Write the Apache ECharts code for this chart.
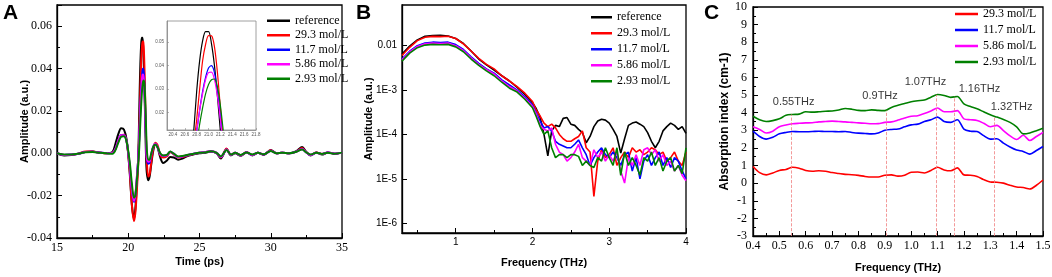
<!DOCTYPE html>
<html>
<head>
<meta charset="utf-8">
<script src="https://cdn.jsdelivr.net/npm/echarts@6/dist/echarts.min.js"></script>
<style>
    html, body { margin: 0; padding: 0; background: #fff; }
    #main { width: 1052px; height: 277px; }
</style>
</head>
<body>
<div id="main"></div>
<script>
// panel A: time domain signal
var timePs = [15, 15.5, 16, 16.5, 17, 17.5, 18, 18.5,
    18.9, 19.1, 19.3, 19.5, 19.7, 19.9,
    20.1, 20.25, 20.4, 20.5, 20.6, 20.7,
    20.75, 20.8, 20.85, 20.9, 20.95, 21.0,
    21.05, 21.1, 21.15, 21.2, 21.25, 21.3,
    21.4, 21.5, 21.6, 21.75, 21.9, 22.05,
    22.25, 22.45, 22.7, 22.95, 23.2, 23.5,
    23.8, 24.2, 24.6, 25, 25.4, 25.8,
    26.2, 26.5, 26.9, 27.2, 27.5, 27.9,
    28.3, 28.7, 29.1, 29.5, 30, 30.4,
    30.8, 31.3, 31.8, 32.2, 32.5, 32.8,
    33.2, 33.6, 34, 34.5, 35];
var tdRef = [0.0, -0.001, -0.0008, -0.0002, 0.0006, 0.0008, 0.0003, 0.0,
    0.0006, 0.0045, 0.009, 0.0118, 0.0112, 0.006,
    -0.009, -0.024, -0.031, -0.026, -0.015, -0.002,
    0.012, 0.029, 0.042, 0.0505, 0.0545, 0.0545,
    0.0493, 0.040, 0.027, 0.012, -0.002, -0.009,
    -0.0127, -0.011, -0.006, 0.001, 0.0045, 0.003,
    -0.002, -0.0046, -0.0035, -0.0018, -0.002, -0.003,
    -0.0025, -0.0012, -0.0005, 0.0, 0.0003, 0.0008,
    0.0, -0.0025, 0.002, -0.001, 0.0, -0.0012,
    0.0005, -0.001, 0.0002, -0.0008, 0.0015, 0.0,
    0.0003, 0.0, 0.001, 0.003, 0.0005, -0.001,
    0.0004, -0.0006, 0.0004, -0.0003, 0.0003];
var td29_3 = [0.0, -0.0008, -0.0008, -0.0002, 0.0008, 0.0008, 0.0003, 0.0,
    0.0003, 0.002, 0.006, 0.0085, 0.0088, 0.005,
    -0.008, -0.024, -0.032, -0.028, -0.018, -0.005,
    0.006, 0.017, 0.030, 0.042, 0.049, 0.0528,
    0.0527, 0.048, 0.037, 0.022, 0.008, -0.003,
    -0.011, -0.010, -0.005, 0.002, 0.005, 0.004,
    -0.001, -0.002, -0.0015, 0.0005, -0.0005, -0.002,
    -0.0018, -0.001, -0.0003, 0.0002, 0.0005, 0.001,
    0.0002, -0.002, 0.0022, -0.0008, 0.0002, -0.001,
    0.0006, -0.0008, 0.0003, -0.0006, 0.0014, 0.0,
    0.0003, 0.0, 0.0008, 0.0025, 0.0005, -0.0008,
    0.0004, -0.0004, 0.0004, -0.0002, 0.0003];
var td11_7 = [0.0, -0.0008, -0.0006, -0.0002, 0.0006, 0.0007, 0.0003, 0.0,
    0.0002, 0.002, 0.006, 0.0085, 0.0085, 0.005,
    -0.006, -0.017, -0.023, -0.020, -0.012, -0.003,
    0.004, 0.012, 0.021, 0.029, 0.035, 0.039,
    0.040, 0.037, 0.029, 0.018, 0.006, -0.002,
    -0.005, -0.0045, -0.001, 0.003, 0.0045, 0.003,
    -0.0005, -0.0012, -0.001, 0.0007, -0.0003, -0.0018,
    -0.0015, -0.0008, -0.0002, 0.0002, 0.0005, 0.001,
    0.0002, -0.0018, 0.0018, -0.0008, 0.0002, -0.001,
    0.0005, -0.0008, 0.0003, -0.0006, 0.0012, 0.0,
    0.0003, 0.0, 0.0008, 0.002, 0.0004, -0.0008,
    0.0003, -0.0004, 0.0004, -0.0002, 0.0003];
var td5_86 = [0.0, -0.0008, -0.0006, -0.0002, 0.0006, 0.0007, 0.0003, 0.0,
    0.0002, 0.002, 0.006, 0.0085, 0.0085, 0.005,
    -0.006, -0.017, -0.0225, -0.0195, -0.0115, -0.003,
    0.004, 0.012, 0.021, 0.028, 0.034, 0.037,
    0.0372, 0.034, 0.027, 0.017, 0.006, -0.002,
    -0.004, -0.0038, -0.0008, 0.003, 0.0045, 0.003,
    -0.0005, -0.0012, -0.001, 0.0007, -0.0003, -0.0018,
    -0.0015, -0.0008, -0.0002, 0.0002, 0.0005, 0.001,
    0.0002, -0.0018, 0.0018, -0.0008, 0.0002, -0.001,
    0.0005, -0.0008, 0.0003, -0.0006, 0.0012, 0.0,
    0.0003, 0.0, 0.0008, 0.002, 0.0004, -0.0008,
    0.0003, -0.0004, 0.0004, -0.0002, 0.0003];
var td2_93 = [0.0, -0.0006, -0.0006, -0.0002, 0.0005, 0.0006, 0.0003, 0.0,
    -0.0002, 0.0015, 0.005, 0.0078, 0.008, 0.005,
    -0.004, -0.014, -0.021, -0.020, -0.013, -0.005,
    0.000, 0.007, 0.015, 0.022, 0.028, 0.032,
    0.034, 0.0343, 0.031, 0.023, 0.012, 0.002,
    -0.003, -0.003, -0.0005, 0.003, 0.0042, 0.003,
    0.0, -0.001, -0.0008, 0.0008, -0.0002, -0.0015,
    -0.0013, -0.0007, -0.0002, 0.0002, 0.0004, 0.0009,
    0.0002, -0.0015, 0.0016, -0.0006, 0.0002, -0.0008,
    0.0004, -0.0006, 0.0002, -0.0005, 0.0011, 0.0,
    0.0002, 0.0, 0.0007, 0.0018, 0.0004, -0.0006,
    0.0003, -0.0003, 0.0003, -0.0002, 0.0003];

// panel B: spectra
var freqB = [0.3, 0.4, 0.5, 0.6, 0.7, 0.8, 0.9, 1.0, 1.1, 1.2, 1.3, 1.4, 1.5, 1.6, 1.7, 1.8, 1.9, 2.0,
    2.05, 2.1, 2.15, 2.2, 2.25, 2.3, 2.35, 2.4, 2.45, 2.5,
    2.55, 2.6, 2.65, 2.7, 2.75, 2.8, 2.85, 2.9, 2.95, 3.0,
    3.05, 3.1, 3.15, 3.2, 3.25, 3.3, 3.35, 3.4, 3.45, 3.5,
    3.55, 3.6, 3.65, 3.7, 3.75, 3.8, 3.85, 3.9, 3.95, 4.0];
var fdRef = [0.0065, 0.0098, 0.0135, 0.0163, 0.0170, 0.0172, 0.0165, 0.0145, 0.0112, 0.0076, 0.0050, 0.0037, 0.0028, 0.0021, 0.0016, 0.00115, 0.00080, 0.00052,
    3.8e-4, 2.4e-4, 1.0e-4, 3.3e-5, 1.2e-4, 1.6e-4, 1.5e-4, 2.3e-4, 2.4e-4, 1.7e-4,
    1.6e-4, 1.3e-4, 1.1e-4, 6.5e-5, 9e-5, 1.5e-4, 2.0e-4, 2.2e-4, 2.1e-4, 1.8e-4,
    1.3e-4, 9e-5, 3.8e-5, 8e-5, 1.6e-4, 1.8e-4, 1.9e-4, 1.7e-4, 1.5e-4, 1.1e-4,
    7e-5, 5e-5, 7e-5, 1.2e-4, 1.5e-4, 1.8e-4, 1.6e-4, 1.3e-4, 1.5e-4, 1.05e-4];
var fd29_3 = [0.0060, 0.0092, 0.0130, 0.0155, 0.0162, 0.0160, 0.0163, 0.0145, 0.0110, 0.0076, 0.0052, 0.0038, 0.0030, 0.0021, 0.0016, 0.0012, 0.00085, 0.00055,
    3.5e-4, 2.6e-4, 1.8e-4, 1.5e-4, 1.7e-4, 1.4e-4, 1.0e-4, 8e-5, 7e-5, 7e-5,
    8e-5, 9e-5, 1.2e-4, 5e-5, 4e-5, 4e-6, 2.5e-5, 4.5e-5, 3e-5, 3.5e-5,
    5e-5, 2e-5, 3e-5, 4e-5, 3e-5, 5e-5, 4e-5, 4.5e-5, 3.5e-5, 4e-5,
    5e-5, 4.5e-5, 3.5e-5, 4e-5, 2.5e-5, 3e-5, 4e-5, 2.5e-5, 2e-5, 4e-5];
var fd11_7 = [0.0050, 0.0075, 0.0100, 0.0115, 0.0120, 0.0118, 0.0120, 0.0106, 0.0082, 0.0056, 0.0040, 0.0030, 0.0024, 0.0017, 0.0013, 0.0010, 0.00070, 0.00046,
    3.0e-4, 2.0e-4, 1.4e-4, 1.5e-4, 1.2e-4, 7e-5, 6e-5, 5.5e-5, 5e-5, 5e-5,
    6e-5, 7.5e-5, 5e-5, 3.5e-5, 2e-5, 3e-5, 4e-5, 5e-5, 3.5e-5, 3e-5,
    4e-5, 3e-5, 2e-5, 3.5e-5, 4e-5, 1.5e-5, 3e-5, 1e-5, 2.5e-5, 3.5e-5,
    2e-5, 3e-5, 4e-5, 2e-5, 3e-5, 1.8e-5, 3e-5, 2.5e-5, 1.5e-5, 1e-5];
var fd5_86 = [0.0048, 0.0072, 0.0096, 0.0110, 0.0115, 0.0112, 0.0115, 0.0100, 0.0078, 0.0053, 0.0038, 0.0029, 0.0023, 0.0016, 0.0012, 0.00095, 0.00066, 0.00043,
    2.8e-4, 1.6e-4, 1.3e-4, 1.2e-4, 1.4e-4, 6e-5, 4e-5, 3.5e-5, 2.5e-5, 3e-5,
    4e-5, 6e-5, 3e-5, 2.5e-5, 2e-5, 4.5e-5, 3e-5, 4e-5, 2.5e-5, 3.5e-5,
    2.5e-5, 4e-5, 1.5e-5, 8e-6, 3e-5, 2e-5, 3.5e-5, 2e-5, 4.5e-5, 5e-5,
    3.5e-5, 4.5e-5, 2.5e-5, 3.5e-5, 2e-5, 2.5e-5, 1.5e-5, 2e-5, 1.2e-5, 9e-6];
var fd2_93 = [0.0045, 0.0068, 0.0090, 0.0103, 0.0107, 0.0105, 0.0107, 0.0094, 0.0073, 0.0050, 0.0036, 0.0027, 0.0021, 0.0015, 0.0011, 0.00090, 0.00062, 0.00040,
    2.5e-4, 1.5e-4, 1.0e-4, 1.2e-4, 5e-5, 3e-5, 3.5e-5, 3.5e-5, 3e-5, 3.5e-5,
    3.5e-5, 3.2e-5, 2e-5, 2.5e-5, 2e-5, 1.8e-5, 3e-5, 2.5e-5, 5e-5, 3e-5,
    2e-5, 5e-5, 1.2e-5, 4e-5, 2e-5, 3e-5, 2e-5, 1.2e-5, 3e-5, 2.5e-5,
    4e-5, 2e-5, 3e-5, 1.5e-5, 2.5e-5, 3e-5, 1.5e-5, 2e-5, 1.3e-5, 5e-5];

// panel C: absorption index
var freqC = [0.4, 0.425, 0.45, 0.475, 0.5, 0.525, 0.55, 0.575, 0.6,
    0.625, 0.65, 0.675, 0.7, 0.725, 0.75, 0.775, 0.8, 0.825,
    0.85, 0.875, 0.9, 0.925, 0.95, 0.975, 1.0, 1.025, 1.05,
    1.075, 1.1, 1.125, 1.15, 1.175, 1.2, 1.225, 1.25, 1.275,
    1.3, 1.325, 1.35, 1.375, 1.4, 1.425, 1.45, 1.475, 1.5];
var abs29_3 = [0.95, 0.6, 0.47, 0.58, 0.72, 0.78, 0.9, 0.85, 0.72,
    0.68, 0.7, 0.68, 0.6, 0.55, 0.5, 0.48, 0.44, 0.38,
    0.35, 0.35, 0.45, 0.47, 0.4, 0.45, 0.62, 0.63, 0.58,
    0.72, 0.9, 0.75, 0.7, 0.87, 0.47, 0.45, 0.38, 0.2,
    0.07, 0.05, 0.0, -0.12, -0.22, -0.25, -0.33, -0.12, 0.18];
var abs11_7 = [2.95, 2.65, 2.5, 2.6, 2.8, 2.88, 2.93, 2.92, 2.92,
    2.93, 2.95, 2.93, 2.93, 2.92, 2.93, 2.88, 2.84, 2.82,
    2.8, 2.85, 3.0, 3.05, 3.07, 3.2, 3.31, 3.35, 3.5,
    3.6, 3.75, 3.5, 3.45, 3.6, 3.07, 2.95, 2.93, 2.7,
    2.5, 2.52, 2.27, 2.05, 1.88, 1.8, 1.65, 1.85, 2.08];
var abs5_86 = [3.2, 3.05, 2.85, 2.95, 3.2, 3.3, 3.37, 3.4, 3.42,
    3.43, 3.48, 3.5, 3.52, 3.5, 3.48, 3.45, 3.42, 3.4,
    3.37, 3.38, 3.45, 3.48, 3.58, 3.7, 3.8, 3.83, 3.95,
    4.1, 4.27, 4.05, 4.05, 4.12, 3.65, 3.6, 3.56, 3.4,
    3.2, 3.28, 2.98, 2.68, 2.48, 2.72, 2.42, 2.65, 2.88];
var abs2_93 = [3.8, 3.6, 3.5, 3.55, 3.65, 3.85, 3.9, 3.92, 4.05,
    4.03, 4.05, 4.08, 4.1, 4.15, 4.24, 4.2, 4.13, 4.12,
    4.16, 4.13, 4.12, 4.3, 4.42, 4.52, 4.62, 4.68, 4.72,
    4.88, 5.03, 4.98, 4.87, 4.92, 4.5, 4.35, 4.22, 4.05,
    3.88, 3.75, 3.62, 3.45, 3.2, 2.8, 2.85, 2.98, 3.12];

// marked absorption peaks
var peakFreq = [0.545, 0.906, 1.095, 1.165, 1.314];
var peakTop = [3.9, 4.12, 5.02, 4.92, 3.8];
var peakText = ["0.55THz", "0.9THz", "1.07THz", "1.16THz", "1.32THz"];
var peakTextX = [0.554, 0.882, 1.054, 1.259, 1.381];
var peakTextY = [4.6, 4.96, 5.77, 5.34, 4.35];

var namesA = ["reference", "29.3 mol/L", "11.7 mol/L", "5.86 mol/L", "2.93 mol/L"];
var namesC = ["29.3 mol/L", "11.7 mol/L", "5.86 mol/L", "2.93 mol/L"];
var colors = ["#000000", "#ff0000", "#0000ff", "#ff00ff", "#008000"];

var serif = '"Liberation Serif", "Times New Roman", serif';
var sans = '"Liberation Sans", Arial, sans-serif';

function pairs(xs, ys) {
    var out = [];
    for (var i = 0; i < xs.length; i++) {
        out.push([xs[i], ys[i]]);
    }
    return out;
}

function makeLine(name, color, xs, ys, idx, width, smooth) {
    return {
        name: name,
        type: "line",
        xAxisIndex: idx,
        yAxisIndex: idx,
        data: pairs(xs, ys),
        symbol: "none",
        smooth: smooth,
        clip: true,
        lineStyle: { color: color, width: width },
        itemStyle: { color: color },
        emphasis: { disabled: true },
    };
}

function axis(extra) {
    var base = {
        type: "value",
        splitLine: { show: false },
        axisLine: { show: true, onZero: false, lineStyle: { color: "#000", width: 1.3 } },
        axisTick: { show: true, inside: true, length: 5, lineStyle: { color: "#000", width: 1 } },
        minorTick: { show: true, splitNumber: 2, length: 3, lineStyle: { color: "#000", width: 1 } },
        axisLabel: { color: "#000", fontFamily: serif, fontSize: 12, margin: 4 },
        nameLocation: "middle",
        nameMoveOverlap: false,
        nameTextStyle: { color: "#000", fontFamily: sans, fontWeight: "bold", fontSize: 11 },
    };
    for (var k in extra) {
        if (typeof extra[k] == "object" && base[k] && !Array.isArray(extra[k])) {
            base[k] = Object.assign({}, base[k], extra[k]);
        } else {
            base[k] = extra[k];
        }
    }
    return base;
}

function legendAt(left, top, data, width, gap) {
    return {
        orient: "vertical",
        left: left,
        top: top,
        padding: 0,
        data: data,
        icon: "rect",
        itemWidth: width,
        itemHeight: 2.5,
        itemGap: gap,
        selectedMode: false,
        textStyle: { color: "#000", fontFamily: serif, fontSize: 12, lineHeight: 12.5 },
    };
}

var chart = echarts.init(document.getElementById("main"));

var series = [];
var tdAll = [tdRef, td29_3, td11_7, td5_86, td2_93];
var fdAll = [fdRef, fd29_3, fd11_7, fd5_86, fd2_93];
var absAll = [abs29_3, abs11_7, abs5_86, abs2_93];

for (var i = 0; i < 5; i++) {
    series.push(makeLine(namesA[i], colors[i], timePs, tdAll[i], 0, 2, 0.3));
}
for (var i = 0; i < 5; i++) {
    series.push(makeLine(namesA[i], colors[i], timePs, tdAll[i], 1, 1.2, 0.3));
}
for (var i = 0; i < 5; i++) {
    series.push(makeLine(namesA[i], colors[i], freqB, fdAll[i], 2, 1.6, false));
}
for (var i = 0; i < 4; i++) {
    series.push(makeLine(namesC[i], colors[i + 1], freqC, absAll[i], 3, 1.6, 0.3));
}

// dashed guide lines for the peaks
var guides = [];
for (var i = 0; i < peakFreq.length; i++) {
    guides.push([{ coord: [peakFreq[i], -3] }, { coord: [peakFreq[i], peakTop[i]] }]);
}
series[15].markLine = {
    silent: true,
    symbol: ["none", "none"],
    label: { show: false },
    lineStyle: { color: "#f08080", type: "dashed", width: 0.8 },
    data: guides,
};

var textPoints = [];
for (var i = 0; i < peakText.length; i++) {
    textPoints.push([peakTextX[i], peakTextY[i], peakText[i]]);
}
series.push({
    name: "peaks",
    type: "scatter",
    xAxisIndex: 3,
    yAxisIndex: 3,
    data: textPoints,
    symbolSize: 1,
    itemStyle: { color: "rgba(0,0,0,0)" },
    label: {
        show: true,
        position: "inside",
        color: "#000",
        fontFamily: sans,
        fontSize: 11,
        formatter: function(p) {
            return p.data[2];
        },
    },
});

option = {
    animation: false,
    backgroundColor: "#fff",
    grid: [
        { left: 57, top: 5, width: 285, height: 233, show: true, borderColor: "#000", borderWidth: 1.3, outerBoundsMode: "none" },
        { left: 167, top: 21, width: 89, height: 109, show: true, borderColor: "#888", borderWidth: 0.8, backgroundColor: "#fff", outerBoundsMode: "none" },
        { left: 402, top: 5, width: 284, height: 228, show: true, borderColor: "#000", borderWidth: 1.3, outerBoundsMode: "none" },
        { left: 753, top: 7, width: 290, height: 229, show: true, borderColor: "#000", borderWidth: 1.3, outerBoundsMode: "none" },
    ],
    xAxis: [
        axis({ gridIndex: 0, min: 15, max: 35, interval: 5, name: "Time (ps)", nameGap: 18 }),
        axis({
            gridIndex: 1, min: 20.3, max: 21.8, splitNumber: 7,
            axisLine: { lineStyle: { color: "#888", width: 0.8 } },
            axisTick: { length: 2, lineStyle: { color: "#888", width: 0.6 } },
            minorTick: { show: false },
            axisLabel: { color: "#555", fontFamily: sans, fontSize: 4.5, margin: 2, showMinLabel: false,
                formatter: function(v) { return v.toFixed(1); } },
        }),
        axis({
            gridIndex: 2, min: 0.3, max: 4, splitNumber: 4, name: "Frequency (THz)", nameGap: 24,
            axisLabel: { fontFamily: sans, fontSize: 10, showMinLabel: false },
        }),
        axis({
            gridIndex: 3, min: 0.4, max: 1.5, interval: 0.1, name: "Frequency (THz)", nameGap: 26,
            axisLabel: { formatter: function(v) { return v.toFixed(1); } },
        }),
    ],
    yAxis: [
        axis({
            gridIndex: 0, min: -0.04, max: 0.07, interval: 0.02, name: "Amplitude (a.u.)", nameGap: 27,
            axisLabel: { showMaxLabel: false, margin: 5, formatter: function(v) { return v.toFixed(2); } },
        }),
        axis({
            gridIndex: 1, min: 0.0126, max: 0.059, splitNumber: 5,
            axisLine: { lineStyle: { color: "#888", width: 0.8 } },
            axisTick: { length: 2, lineStyle: { color: "#888", width: 0.6 } },
            minorTick: { show: false },
            axisLabel: { color: "#555", fontFamily: sans, fontSize: 4.5, margin: 3, showMinLabel: false, showMaxLabel: false,
                formatter: function(v) { return v.toFixed(2); } },
        }),
        axis({
            gridIndex: 2, type: "log", logBase: 10, min: 6e-7, max: 0.0826, name: "Amplitude (a.u.)", nameGap: 28,
            minorTick: { show: false },
            axisLabel: {
                fontFamily: sans, fontSize: 10, margin: 5, showMinLabel: false, showMaxLabel: false,
                formatter: function(v) {
                    var e = Math.round(Math.log10(v));
                    return e == -2 ? "0.01" : "1E" + e;
                },
            },
        }),
        axis({
            gridIndex: 3, min: -3, max: 10, interval: 1, name: "Absorption index (cm-1)", nameGap: 22,
            nameTextStyle: { fontSize: 12 },
            axisLabel: { margin: 6 },
        }),
    ],
    legend: [
        legendAt(267, 14.5, namesA, 23, 2),
        legendAt(591, 11, namesA, 21, 3.5),
        legendAt(955, 7.75, namesC, 23, 3.5),
    ],
    graphic: [
        { type: "text", left: 3, top: 3, style: { text: "A", font: 'bold 21px "Liberation Sans"', fill: "#000" } },
        { type: "text", left: 356, top: 3, style: { text: "B", font: 'bold 21px "Liberation Sans"', fill: "#000" } },
        { type: "text", left: 704, top: 3, style: { text: "C", font: 'bold 21px "Liberation Sans"', fill: "#000" } },
    ],
    series: series,
};

chart.setOption(option);
</script>
</body>
</html>
